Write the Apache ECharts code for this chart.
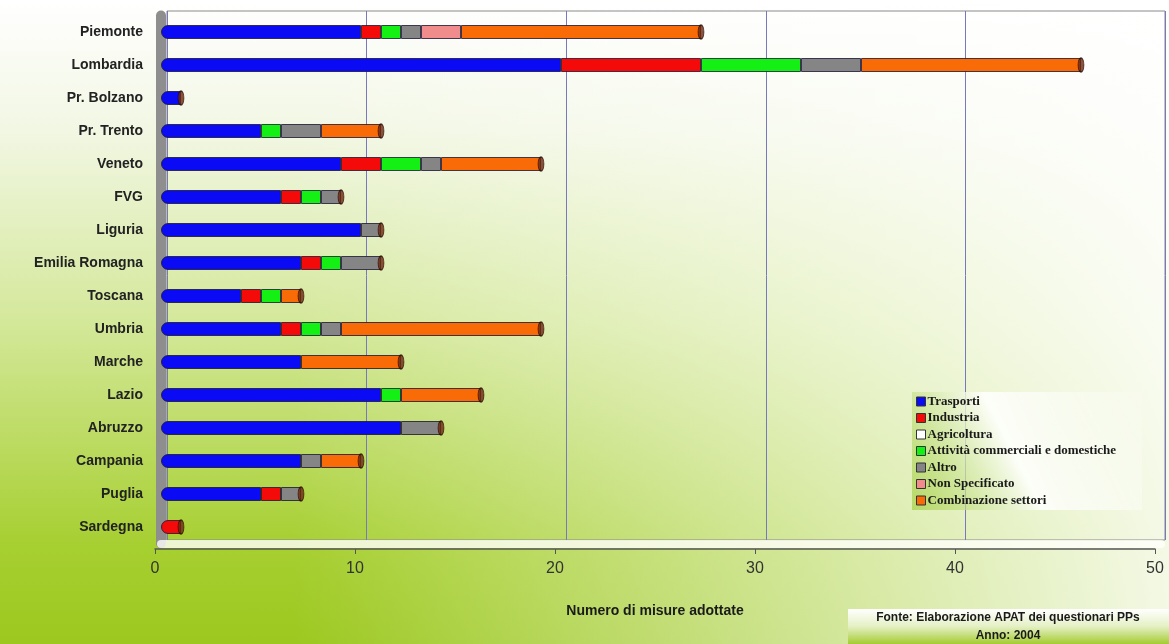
<!DOCTYPE html>
<html>
<head>
<meta charset="utf-8">
<script src="https://cdn.jsdelivr.net/npm/echarts@6/dist/echarts.min.js"></script>
<style>
html, body { margin: 0; padding: 0; }
body {
	width: 1169px; height: 644px; overflow: hidden;
	background:
		linear-gradient(to right, rgba(255,255,255,0) 25%, rgba(255,255,255,0.88) 100%),
		linear-gradient(to bottom, #ffffff 0%, #f2f7e4 20%, #d4e89a 50%, #a6cf30 85%, #9cc81f 100%);
}
#main { width: 1169px; height: 644px; }
</style>
</head>
<body>
<div id="main"></div>
<script>
var regioni = ['Piemonte','Lombardia','Pr. Bolzano','Pr. Trento','Veneto','FVG','Liguria','Emilia Romagna','Toscana','Umbria','Marche','Lazio','Abruzzo','Campania','Puglia','Sardegna'];
var trasporti    = [10,20,1,5,9,6,10,7,4,6,7,11,12,7,5,0];
var industria    = [1,7,0,0,2,1,0,1,1,1,0,0,0,0,1,1];
var agricoltura  = [0,0,0,0,0,0,0,0,0,0,0,0,0,0,0,0];
var attivita     = [1,5,0,1,2,1,0,1,1,1,0,1,0,0,0,0];
var altro        = [1,3,0,2,1,1,1,2,0,1,0,0,2,1,1,0];
var nonSpec      = [2,0,0,0,0,0,0,0,0,0,0,0,0,0,0,0];
var combinazione = [12,11,0,3,5,0,0,0,1,10,5,4,0,2,0,0];
var xTicks = [0,10,20,30,40,50];

var serie = [
	{name:'Trasporti', data:trasporti, color:'#0a0af5'},
	{name:'Industria', data:industria, color:'#f50a0a'},
	{name:'Agricoltura', data:agricoltura, color:'#ffffff'},
	{name:'Attività commerciali e domestiche', data:attivita, color:'#14f014'},
	{name:'Altro', data:altro, color:'#858585'},
	{name:'Non Specificato', data:nonSpec, color:'#f08c8c'},
	{name:'Combinazione settori', data:combinazione, color:'#f86b06'}
];

// which series starts each bar (for the rounded left end)
var primo = regioni.map(function(r, i){
	for (var s = 0; s < serie.length; s++) if (serie[s].data[i] > 0) return s;
	return -1;
});
var totali = regioni.map(function(r, i){
	var t = 0; serie.forEach(function(s){ t += s.data[i]; }); return t;
});

var myChart = echarts.init(document.getElementById('main'));

var seriesList = serie.map(function(s, k){
	return {
		name: s.name, type: 'bar', stack: 'tot', xAxisIndex: 0, yAxisIndex: 0,
		barWidth: 14, z: 3,
		itemStyle: {color: s.color, borderColor: 'rgba(25,20,50,0.8)', borderWidth: 1},
		data: s.data.map(function(v, i){
			if (!v) return '-';
			if (primo[i] === k) return {value: v, itemStyle: {borderRadius: [7,0,0,7]}};
			return v;
		})
	};
});
seriesList.push({
	type: 'scatter', xAxisIndex: 0, yAxisIndex: 0, z: 4, silent: true,
	symbol: 'circle', symbolSize: [6, 14],
	itemStyle: {color: '#6a2810', borderColor: '#2a0a00', borderWidth: 1},
	data: totali.map(function(t, i){ return [t, regioni[i]]; })
});

var option = {
	animation: false,
	backgroundColor: 'transparent',
	textStyle: {fontFamily: 'Liberation Sans'},
	grid: [
		{left: 161, right: 8, top: 15.5, height: 528},
		{left: 155, right: 14, top: 20, height: 529},
		{left: 167, right: 4, top: 11, height: 529, show: true, borderColor: '#8a8a8a', borderWidth: 1, backgroundColor: 'transparent'}
	],
	xAxis: [
		{gridIndex: 0, type: 'value', min: 0, max: 50, axisLabel: {show: false}, axisTick: {show: false}, splitLine: {show: false},
			axisLine: {show: true, lineStyle: {color: 'rgba(255,255,250,0.8)', width: 8}}},
		{gridIndex: 1, type: 'value', min: 0, max: 50, interval: 10, splitLine: {show: false},
			axisLine: {lineStyle: {color: '#555', width: 1.5}},
			axisTick: {length: 5, lineStyle: {color: '#555'}},
			axisLabel: {fontSize: 16, color: '#333', margin: 12, customValues: xTicks},
			name: 'Numero di misure adottate', nameLocation: 'middle', nameGap: 55,
			nameTextStyle: {fontSize: 14, fontWeight: 'bold', color: '#1a1a1a'}},
		{gridIndex: 2, type: 'value', min: 0, max: 50, interval: 10, axisLine: {show: false}, axisTick: {show: false},
			axisLabel: {show: false}, splitLine: {lineStyle: {color: '#7878bc', width: 1}}}
	],
	yAxis: [
		{gridIndex: 0, type: 'category', inverse: true, data: regioni,
			axisLine: {lineStyle: {color: '#8e8e8e', width: 10}},
			axisTick: {length: 13, lineStyle: {color: '#555'}},
			axisLabel: {margin: 18, fontSize: 14, fontWeight: 'bold', color: '#222'}},
		{gridIndex: 1, type: 'value', show: false},
		{gridIndex: 2, type: 'value', show: false}
	],
	legend: {
		orient: 'vertical', left: 912, top: 392, itemWidth: 9, itemHeight: 9, itemGap: 3.5,
		icon: 'rect', selectedMode: false,
		padding: [3, 26, 3, 4],
		backgroundColor: {type: 'linear', x: 0, y: 1, x2: 1, y2: 0, colorStops: [
			{offset: 0, color: 'rgba(150,200,40,0.55)'}, {offset: 0.45, color: 'rgba(255,255,255,0.85)'}, {offset: 1, color: 'rgba(255,255,255,0.1)'}]},
		textStyle: {fontFamily: 'Liberation Serif', fontSize: 13, fontWeight: 'bold', color: '#1a1a1a', padding: [0,0,0,-3]},
		data: serie.map(function(s){
			return {name: s.name, itemStyle: {color: s.color, borderColor: '#333', borderWidth: 1}};
		})
	},
	graphic: [{
		type: 'group', right: 0, bottom: 0,
		children: [
			{type: 'rect', shape: {x: 0, y: 0, width: 321, height: 35},
				style: {fill: {type: 'linear', x: 0, y: 0, x2: 0, y2: 1, colorStops: [
					{offset: 0, color: '#ffffff'}, {offset: 0.5, color: '#e4f0c4'}, {offset: 1, color: '#a4cc30'}]}}},
			{type: 'text', x: 160, y: 9, style: {text: 'Fonte: Elaborazione APAT dei questionari PPs', align: 'center', verticalAlign: 'middle',
				font: 'bold 12px "Liberation Sans"', fill: '#1a1a1a'}},
			{type: 'text', x: 160, y: 27, style: {text: 'Anno: 2004', align: 'center', verticalAlign: 'middle',
				font: 'bold 12px "Liberation Sans"', fill: '#1a1a1a'}}
		]
	}],
	series: seriesList
};
myChart.setOption(option, true);
</script>
</body>
</html>
